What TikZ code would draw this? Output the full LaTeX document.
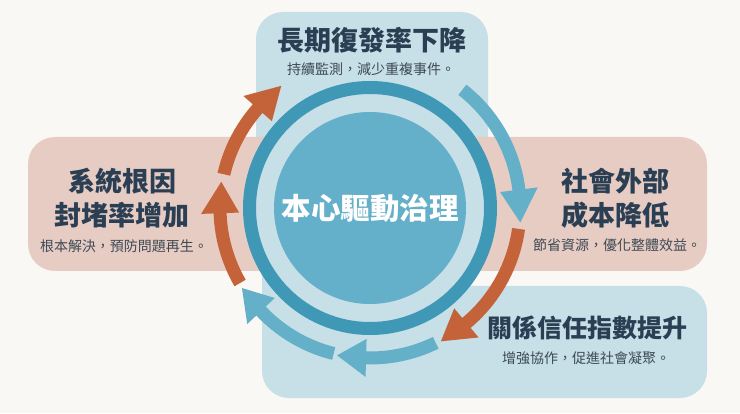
\documentclass[tikz,border=0pt]{standalone}
\usepackage{fontspec}
\newfontfamily\cjk{Noto Sans CJK TC}
\newfontfamily\cjkheavy{Noto Sans CJK TC Black}
\usetikzlibrary{positioning}
\definecolor{paper}{HTML}{FAF8F4}
\definecolor{palepink}{HTML}{E7CCC3}
\definecolor{paleblue}{HTML}{C7DFE6}
\definecolor{ringblue}{HTML}{3F98B6}
\definecolor{coreblue}{HTML}{64AFC9}
\definecolor{arrowblue}{HTML}{64B0C9}
\definecolor{arroworange}{HTML}{C4633A}
\definecolor{titleink}{HTML}{2A3F54}
\definecolor{subink}{HTML}{3D4A55}
\tikzset{
  panel/.style={rectangle,rounded corners=27pt,inner sep=0pt},
  headline/.style={font=\cjkheavy\fontsize{27}{34}\selectfont,text=titleink,align=center,inner sep=0pt},
  subline/.style={font=\cjk\fontsize{14}{14}\selectfont,text=subink,inner sep=0pt}
}

\begin{document}
\begin{tikzpicture}[x=1pt,y=1pt]
  \fill[paper] (0,0) rectangle (740,413);

  % panels
  \node[panel,fill=paleblue,minimum width=232pt,minimum height=158pt] (toppanel) at (372,322) {};
  \node[panel,fill=palepink,minimum width=292pt,minimum height=134pt] (leftpanel) at (174,209) {};
  \node[panel,fill=palepink,minimum width=287pt,minimum height=134pt] (rightpanel) at (563.5,209) {};
  \node[panel,fill=paleblue,minimum width=445pt,minimum height=112pt] (lowpanel) at (484.5,71) {};
  \fill[paleblue] (262,100) rectangle (330,141);

  % rings
  \node[circle,fill=paleblue,draw=ringblue,line width=13pt,minimum size=241pt,inner sep=0pt] (ring) at (370,205) {};
  \node[circle,fill=coreblue,minimum size=192pt,inner sep=0pt] (core) at (370,205) {};
  \node[font=\cjk\bfseries\fontsize{29.5}{30}\selectfont,text=white,inner sep=0pt] (coretext) at (370,205) {本心驅動治理};

  % arrows round the ring
  \begin{scope}[shift={(370,205)}]
    \foreach \s/\b/\t/\c in {52/7/-5.5/arrowblue, -8/-50/-62/arroworange, -64/-91.5/-102.6/arrowblue,
      -104/-136.6/-148/arrowblue, -150/-178/-190/arroworange, 167/138.5/126/arroworange}
    \fill[\c] (\s:143.5) arc[start angle=\s,end angle=\b,radius=143.5] -- (\b:131) -- (\t:151)
      -- (\b:169) -- (\b:156.5) arc[start angle=\b,end angle=\s,radius=156.5] -- cycle;
  \end{scope}

  % texts
  \foreach \n/\x/\y/\t in {tophead/372/373/長期復發率下降, lefthead/122/215/系統根因\\封堵率增加,
    righthead/615/215/社會外部\\成本降低}
  \node[headline] (\n) at (\x,\y) {\t};
  \node[headline,font=\cjkheavy\fontsize{25}{25}\selectfont] (lowhead) at (587,85) {關係信任指數提升};

  \foreach \n/\x/\y/\t in {topsub/371/344/持續監測，減少重複事件。, leftsub/124/167/根本解決，預防問題再生。,
    rightsub/617/168/節省資源，優化整體效益。, lowsub/586/55/增強協作，促進社會凝聚。}
  \node[subline] (\n) at (\x,\y) {\t};

\end{tikzpicture}
\end{document}
